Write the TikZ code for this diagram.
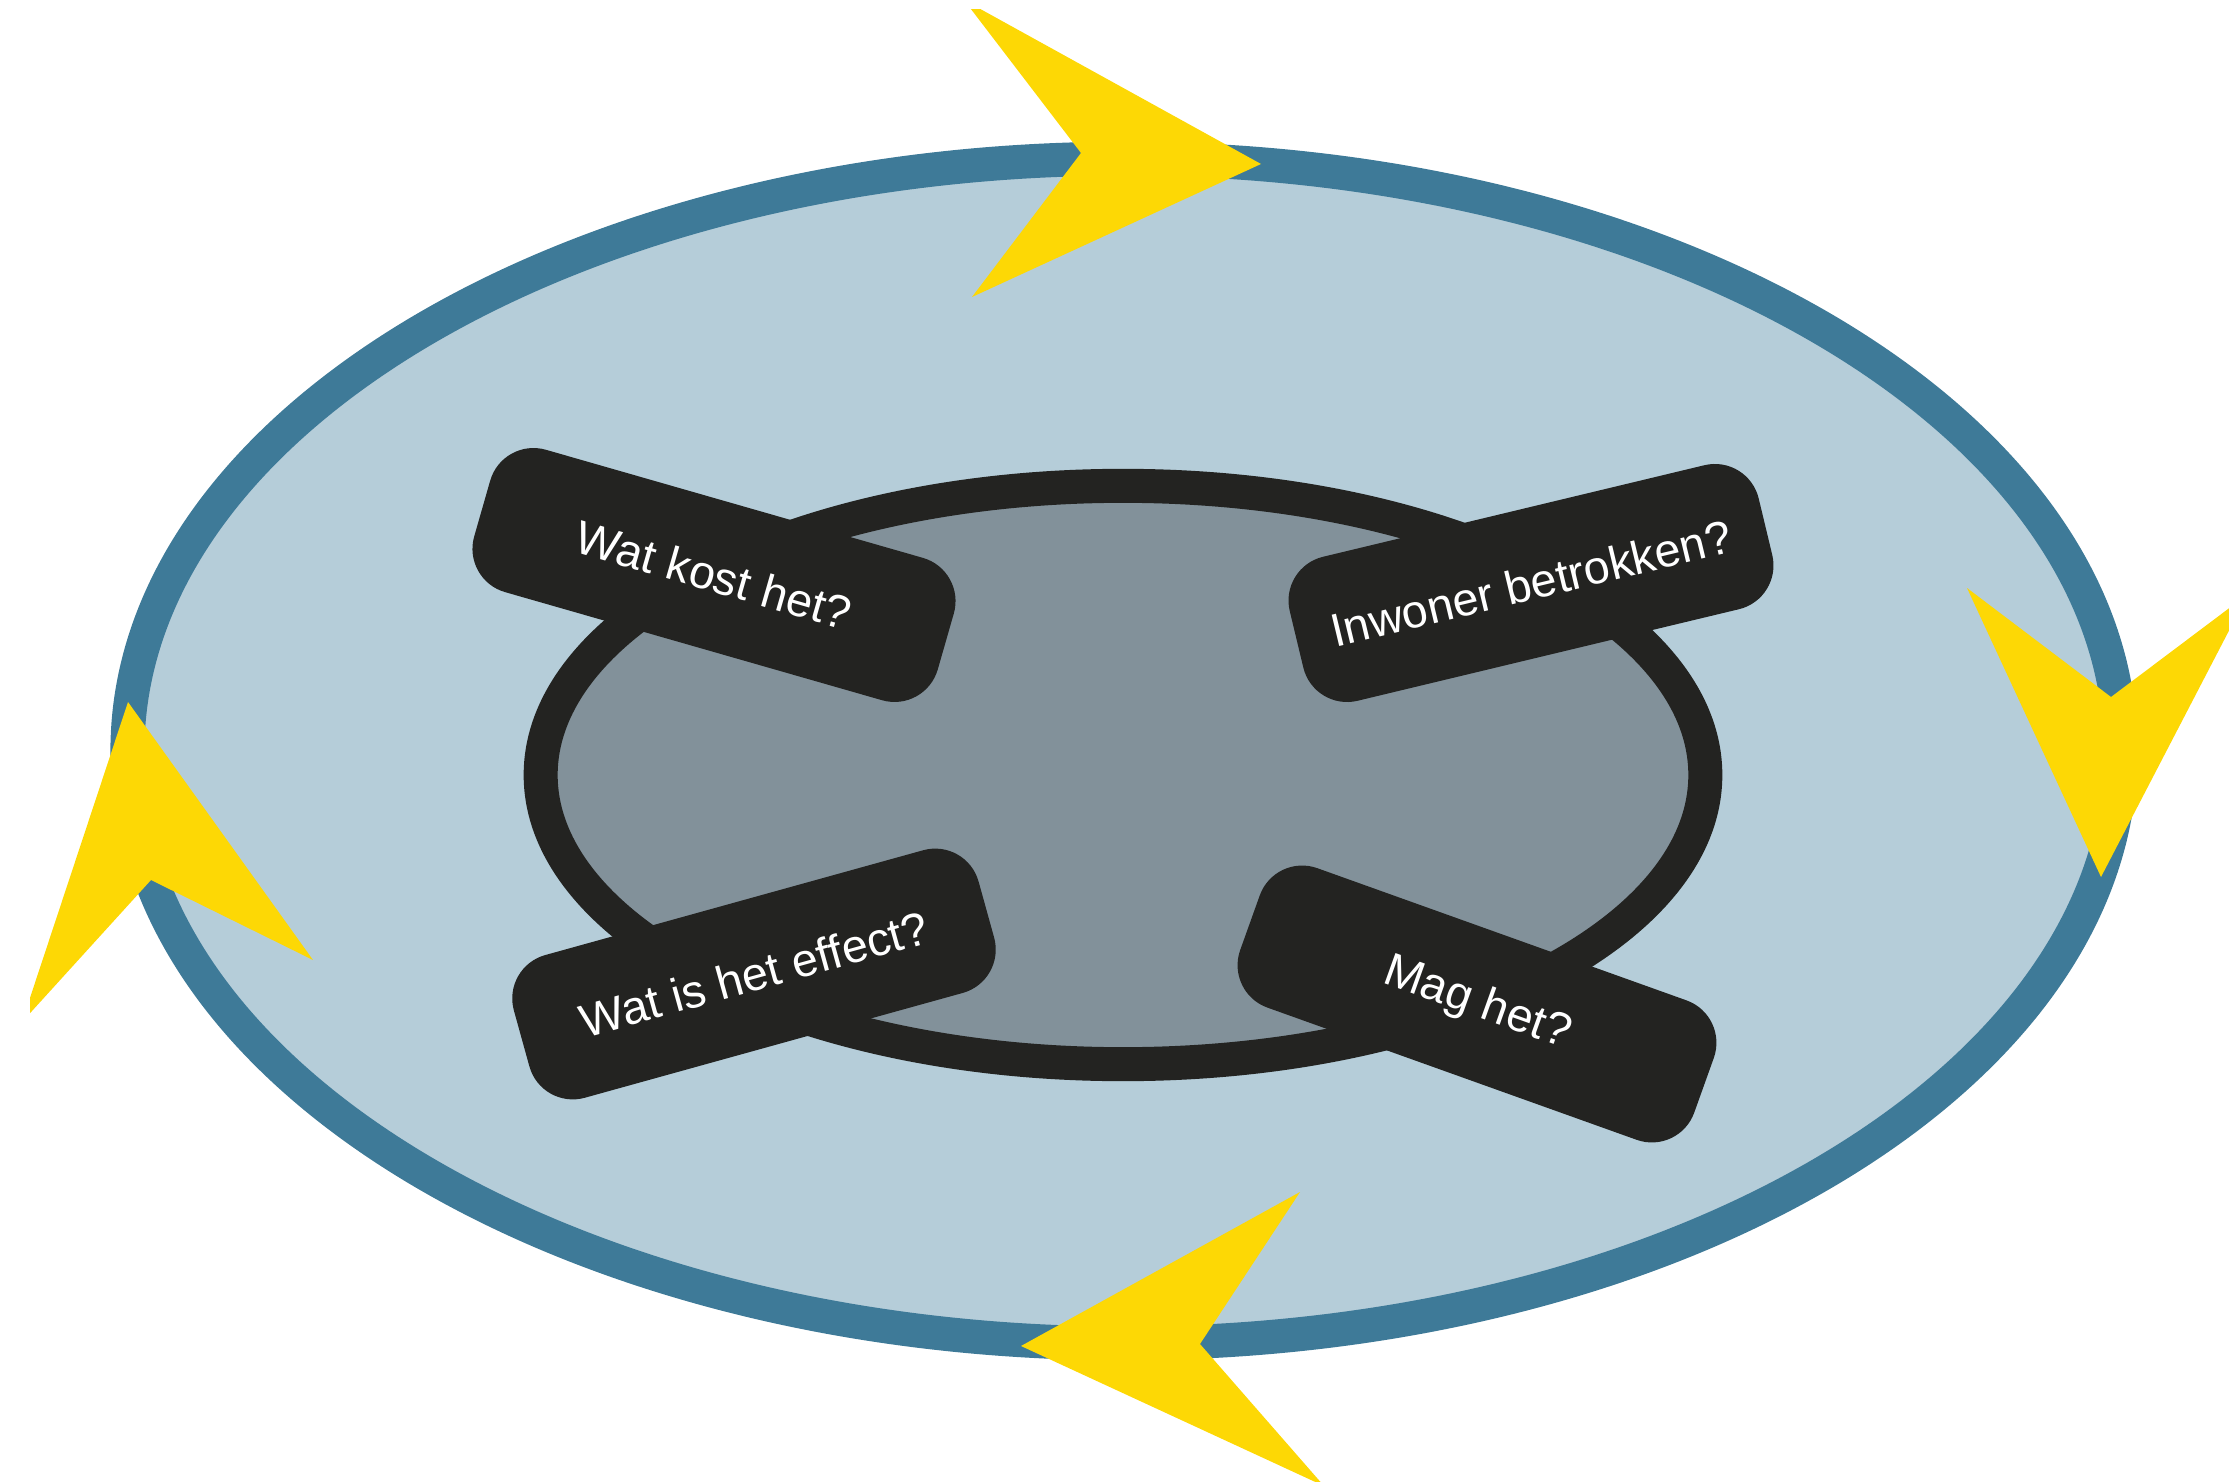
\documentclass[tikz,border=0pt]{standalone}
\usepackage{fontspec}
\setmainfont{Liberation Sans}
\usetikzlibrary{shapes.geometric}
\definecolor{cycleFill}{HTML}{B5CDD9}
\definecolor{cycleLine}{HTML}{3E7A98}
\definecolor{coreFill}{HTML}{82919A}
\definecolor{coreDark}{HTML}{232321}
\definecolor{flowYellow}{HTML}{FDD805}
\tikzset{
    ring/.style={
        ellipse,
        line width=0.34cm,
        inner sep=0pt
    },
    question/.style={
        rectangle,
        rounded corners=0.45cm,
        minimum width=4.82cm,
        minimum height=1.48cm,
        inner sep=0pt,
        fill=coreDark,
        text=white,
        font=\fontsize{13.3}{16}\selectfont
    },
    flow/.style={fill=flowYellow}
}
\begin{document}
\begin{tikzpicture}[x=0.01cm, y=-0.01cm]
\useasboundingbox (0,0) rectangle (2229,1482);
\clip (30,10) rectangle (2229,1482);

% rings
\node[ring, draw=cycleLine, fill=cycleFill, minimum width=19.92cm, minimum height=11.84cm] (cycle) at (1124,751) {};
\node[ring, draw=coreDark, fill=coreFill, minimum width=11.64cm, minimum height=5.78cm] (core) at (1123,775) {};

% arrows round the cycle
\fill[flow] (964,0) -- (1261,164) -- (972,297) -- (1081,153) -- cycle;
\fill[flow] (1967,588) -- (2111,697) -- (2248,594) -- (2101,877) -- cycle;
\fill[flow] (1021,1346) -- (1300,1192) -- (1200,1344) -- (1324,1486) -- cycle;
\fill[flow] (128,702) -- (313,960) -- (151,880) -- (22,1022) -- cycle;

% questions
\node[question, rotate=-16] (cost) at (714,575) {Wat kost het?};
\node[question, rotate=13.5] (citizen) at (1531,583) {Inwoner betrokken?};
\node[question, rotate=15.5] (effect) at (754,974) {Wat is het effect?};
\node[question, rotate=-19.7] (allowed) at (1477,1004) {Mag het?};
\end{tikzpicture}
\end{document}
